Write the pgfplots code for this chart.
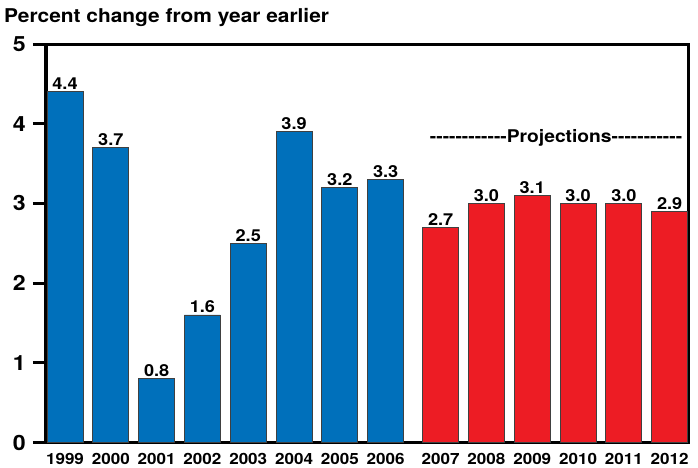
\documentclass[border=0pt]{standalone}
\usepackage{fontspec}
\setmainfont{TeX Gyre Heros}[FakeStretch=1.1]
\usepackage{pgfplots}
\pgfplotsset{compat=1.18}
\definecolor{barblue}{RGB}{0,112,187}
\definecolor{barred}{RGB}{237,28,36}
\newcommand\hy{\hbox{-}}
\begin{document}
\begin{tikzpicture}[x=1pt,y=1pt]
\useasboundingbox (0,0) rectangle (698,467);
\node[anchor=base west, inner sep=0pt, font=\bfseries\fontsize{19}{22}\selectfont] at (4,444.5) {Percent change from year earlier};
\begin{axis}[
  at={(46pt,24.5pt)}, anchor=south west,
  scale only axis, width=642pt, height=398.5pt,
  xmin=-0.415, xmax=13.6, ymin=0, ymax=5,
  axis line style={line width=3pt},
  ybar, bar width=36pt, bar shift=0pt,
  ytick={0,1,2,3,4,5},
  xtick={0,1,2,3,4,5,6,7,8.2,9.2,10.2,11.2,12.2,13.2},
  xticklabels={1999,2000,2001,2002,2003,2004,2005,2006,2007,2008,2009,2010,2011,2012},
  xtick style={draw=none},
  ytick pos=left,
  tick align=outside,
  ytick style={line width=3pt, black},
  major tick length=13pt,
  /pgf/number format/assume math mode=true,
  yticklabel style={font=\bfseries\fontsize{21}{24}\selectfont, inner sep=0pt, xshift=-7pt},
  xticklabel style={font=\bfseries\fontsize{15.5}{18}\selectfont, inner sep=0pt, yshift=2pt},
  nodes near coords={\pgfmathprintnumber[fixed,fixed zerofill,precision=1,assume math mode=true]{\pgfplotspointmeta}},
  nodes near coords style={font=\bfseries\fontsize{16.5}{19}\selectfont, inner sep=1.5pt, anchor=south, black},
]
\addplot[fill=barblue, draw=black!75, line width=0.8pt] coordinates {
  (0,4.4) (1,3.7) (2,0.8) (3,1.6) (4,2.5) (5,3.9) (6,3.2) (7,3.3)
};
\addplot[fill=barred, draw=black!75, line width=0.8pt] coordinates {
  (8.2,2.7) (9.2,3.0) (10.2,3.1) (11.2,3.0) (12.2,3.0) (13.2,2.9)
};
\node[font=\bfseries\fontsize{17.5}{20}\selectfont, inner sep=0pt] at (axis cs:10.72,3.82) {\hy\hy\hy\hy\hy\hy\hy\hy\hy\hy\hy\hy Projections\hy\hy\hy\hy\hy\hy\hy\hy\hy\hy\hy};
\end{axis}
\end{tikzpicture}
\end{document}
